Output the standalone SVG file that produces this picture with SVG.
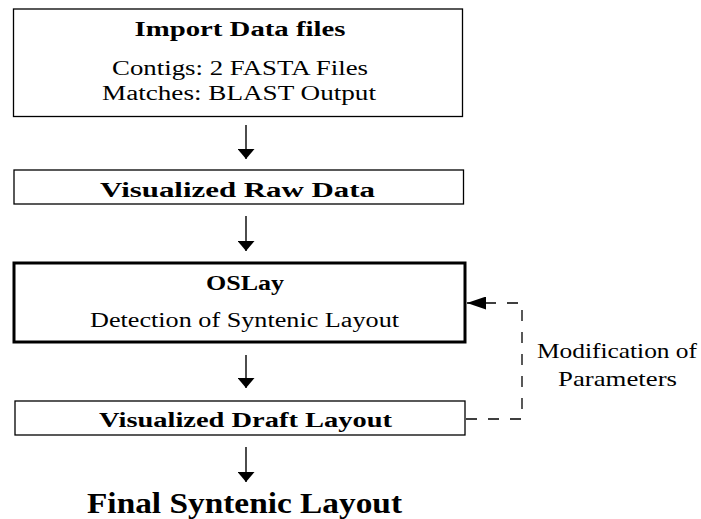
<svg xmlns="http://www.w3.org/2000/svg" width="701" height="519" viewBox="0 0 701 519">
  <defs>
    <style>
      .box { fill: #fff; stroke: #000; stroke-width: 1.3; }
      .box-main { fill: #fff; stroke: #000; stroke-width: 3; }
      .flow { stroke: #000; stroke-width: 1.4; fill: none; }
      .dash { stroke: #000; stroke-width: 1.3; fill: none; stroke-dasharray: 11 11; }
      text { font-family: "Liberation Serif", "DejaVu Serif", serif; fill: #000; text-anchor: middle; }
      .title { font-size: 20px; font-weight: bold; }
      .body { font-size: 20px; }
      .final { font-size: 29px; font-weight: bold; }
      .note { font-size: 21px; }
    </style>
    <marker id="head" viewBox="0 0 10 17" refX="10" refY="8.5" markerWidth="10" markerHeight="17" markerUnits="userSpaceOnUse" orient="auto">
      <path d="M0,0 L10,8.5 L0,17 Z" fill="#000"/>
    </marker>
    <marker id="head-big" viewBox="0 0 19 13" refX="19" refY="6.5" markerWidth="19" markerHeight="13" markerUnits="userSpaceOnUse" orient="auto">
      <path d="M0,0 L19,6.5 L0,13 Z" fill="#000"/>
    </marker>
  </defs>

  <rect width="701" height="519" fill="#fff"/>

  <!-- input step -->
  <g id="import">
    <rect class="box" x="13.5" y="9" width="449" height="107.5"/>
    <text class="title" x="240" y="36" textLength="211" lengthAdjust="spacingAndGlyphs">Import Data files</text>
    <text class="body" x="240" y="75" textLength="256" lengthAdjust="spacingAndGlyphs">Contigs: 2 FASTA Files</text>
    <text class="body" x="239" y="100" textLength="274" lengthAdjust="spacingAndGlyphs">Matches: BLAST Output</text>
  </g>

  <g id="raw">
    <rect class="box" x="14" y="170" width="449.5" height="34"/>
    <text class="title" x="237.5" y="197" textLength="275" lengthAdjust="spacingAndGlyphs">Visualized Raw Data</text>
  </g>

  <g id="oslay">
    <rect class="box-main" x="14" y="263" width="451" height="79"/>
    <text class="title" x="245" y="290" textLength="78" lengthAdjust="spacingAndGlyphs">OSLay</text>
    <text class="body" x="244.5" y="327" textLength="309" lengthAdjust="spacingAndGlyphs">Detection of Syntenic Layout</text>
  </g>

  <g id="draft">
    <rect class="box" x="15" y="401" width="450" height="34"/>
    <text class="title" x="245.5" y="427" textLength="293" lengthAdjust="spacingAndGlyphs">Visualized Draft Layout</text>
  </g>

  <g id="final">
    <text class="final" x="244.5" y="513" textLength="315" lengthAdjust="spacingAndGlyphs">Final Syntenic Layout</text>
  </g>

  <g id="feedback-label">
    <text class="note" x="617" y="358" textLength="160" lengthAdjust="spacingAndGlyphs">Modification of</text>
    <text class="note" x="617.5" y="386" textLength="119" lengthAdjust="spacingAndGlyphs">Parameters</text>
  </g>

  <!-- connectors -->
  <g id="connectors">
    <line class="flow" x1="246" y1="125" x2="246" y2="159" marker-end="url(#head)"/>
    <line class="flow" x1="246" y1="216" x2="246" y2="251" marker-end="url(#head)"/>
    <line class="flow" x1="246" y1="355" x2="246" y2="388" marker-end="url(#head)"/>
    <line class="flow" x1="246" y1="447" x2="246" y2="482" marker-end="url(#head)"/>
    <path class="dash" d="M466,419 H522 V303 H467" marker-end="url(#head-big)"/>
  </g>
</svg>
